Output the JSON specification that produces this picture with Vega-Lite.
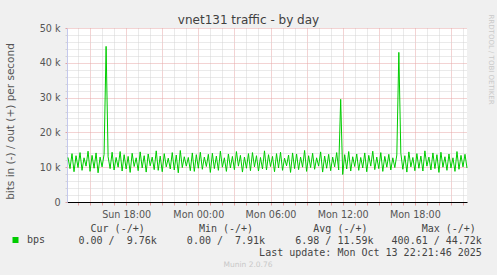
{
  "$schema": "https://vega.github.io/schema/vega-lite/v6.json",
  "width": 400,
  "height": 174,
  "autosize": "none",
  "padding": {"left": 67, "top": 28, "right": 30, "bottom": 73},
  "background": "#f0f0f0",
  "view": {"fill": "#ffffff", "stroke": null},
  "title": {"text": "Munin 2.0.76", "orient": "bottom", "anchor": "middle", "frame": "group", "dx": -19, "offset": 4, "font": "DejaVu Sans", "fontSize": 7.5, "fontWeight": "normal", "color": "#c8c8c8"},
  "data": {"values": [
    {"t": "2025-10-12T13:10", "v": 12800}, {"t": "2025-10-12T13:20", "v": 9600}, {"t": "2025-10-12T13:30", "v": 13900}, {"t": "2025-10-12T13:40", "v": 8700}, {"t": "2025-10-12T13:50", "v": 13300},
    {"t": "2025-10-12T14:00", "v": 9900}, {"t": "2025-10-12T14:10", "v": 14200}, {"t": "2025-10-12T14:20", "v": 9100}, {"t": "2025-10-12T14:30", "v": 12700}, {"t": "2025-10-12T14:40", "v": 10300}, {"t": "2025-10-12T14:50", "v": 14600},
    {"t": "2025-10-12T15:00", "v": 8800}, {"t": "2025-10-12T15:10", "v": 13400}, {"t": "2025-10-12T15:20", "v": 9700}, {"t": "2025-10-12T15:30", "v": 14100}, {"t": "2025-10-12T15:40", "v": 8400}, {"t": "2025-10-12T15:50", "v": 12900},
    {"t": "2025-10-12T16:00", "v": 10100}, {"t": "2025-10-12T16:10", "v": 13700}, {"t": "2025-10-12T16:20", "v": 44720}, {"t": "2025-10-12T16:30", "v": 13000}, {"t": "2025-10-12T16:40", "v": 9600}, {"t": "2025-10-12T16:50", "v": 14300},
    {"t": "2025-10-12T17:00", "v": 9200}, {"t": "2025-10-12T17:10", "v": 12800}, {"t": "2025-10-12T17:20", "v": 10000}, {"t": "2025-10-12T17:30", "v": 14500}, {"t": "2025-10-12T17:40", "v": 8900}, {"t": "2025-10-12T17:50", "v": 13600},
    {"t": "2025-10-12T18:00", "v": 9500}, {"t": "2025-10-12T18:10", "v": 13100}, {"t": "2025-10-12T18:20", "v": 8500}, {"t": "2025-10-12T18:30", "v": 14000}, {"t": "2025-10-12T18:40", "v": 10200}, {"t": "2025-10-12T18:50", "v": 12700},
    {"t": "2025-10-12T19:00", "v": 9000}, {"t": "2025-10-12T19:10", "v": 14400}, {"t": "2025-10-12T19:20", "v": 9800}, {"t": "2025-10-12T19:30", "v": 13300}, {"t": "2025-10-12T19:40", "v": 8600}, {"t": "2025-10-12T19:50", "v": 13800},
    {"t": "2025-10-12T20:00", "v": 10400}, {"t": "2025-10-12T20:10", "v": 12900}, {"t": "2025-10-12T20:20", "v": 9300}, {"t": "2025-10-12T20:30", "v": 14700}, {"t": "2025-10-12T20:40", "v": 9100}, {"t": "2025-10-12T20:50", "v": 13200},
    {"t": "2025-10-12T21:00", "v": 8700}, {"t": "2025-10-12T21:10", "v": 13900}, {"t": "2025-10-12T21:20", "v": 10100}, {"t": "2025-10-12T21:30", "v": 12600}, {"t": "2025-10-12T21:40", "v": 9500}, {"t": "2025-10-12T21:50", "v": 14200},
    {"t": "2025-10-12T22:00", "v": 9200}, {"t": "2025-10-12T22:10", "v": 13500}, {"t": "2025-10-12T22:20", "v": 8400}, {"t": "2025-10-12T22:30", "v": 14800}, {"t": "2025-10-12T22:40", "v": 9900}, {"t": "2025-10-12T22:50", "v": 13000},
    {"t": "2025-10-12T23:00", "v": 10300}, {"t": "2025-10-12T23:10", "v": 12800}, {"t": "2025-10-12T23:20", "v": 9000}, {"t": "2025-10-12T23:30", "v": 14100}, {"t": "2025-10-12T23:40", "v": 8800}, {"t": "2025-10-12T23:50", "v": 13600},
    {"t": "2025-10-13T00:00", "v": 9700}, {"t": "2025-10-13T00:10", "v": 14300}, {"t": "2025-10-13T00:20", "v": 9400}, {"t": "2025-10-13T00:30", "v": 12900}, {"t": "2025-10-13T00:40", "v": 10200}, {"t": "2025-10-13T00:50", "v": 13700},
    {"t": "2025-10-13T01:00", "v": 8500}, {"t": "2025-10-13T01:10", "v": 14000}, {"t": "2025-10-13T01:20", "v": 9600}, {"t": "2025-10-13T01:30", "v": 13200}, {"t": "2025-10-13T01:40", "v": 9100}, {"t": "2025-10-13T01:50", "v": 14600},
    {"t": "2025-10-13T02:00", "v": 10000}, {"t": "2025-10-13T02:10", "v": 12700}, {"t": "2025-10-13T02:20", "v": 8800}, {"t": "2025-10-13T02:30", "v": 13800}, {"t": "2025-10-13T02:40", "v": 9800}, {"t": "2025-10-13T02:50", "v": 13100},
    {"t": "2025-10-13T03:00", "v": 9300}, {"t": "2025-10-13T03:10", "v": 14500}, {"t": "2025-10-13T03:20", "v": 10300}, {"t": "2025-10-13T03:30", "v": 13400}, {"t": "2025-10-13T03:40", "v": 8600}, {"t": "2025-10-13T03:50", "v": 12900},
    {"t": "2025-10-13T04:00", "v": 9700}, {"t": "2025-10-13T04:10", "v": 13900}, {"t": "2025-10-13T04:20", "v": 9000}, {"t": "2025-10-13T04:30", "v": 14200}, {"t": "2025-10-13T04:40", "v": 10100}, {"t": "2025-10-13T04:50", "v": 13300},
    {"t": "2025-10-13T05:00", "v": 8900}, {"t": "2025-10-13T05:10", "v": 12800}, {"t": "2025-10-13T05:20", "v": 9500}, {"t": "2025-10-13T05:30", "v": 14700}, {"t": "2025-10-13T05:40", "v": 9200}, {"t": "2025-10-13T05:50", "v": 13600},
    {"t": "2025-10-13T06:00", "v": 10200}, {"t": "2025-10-13T06:10", "v": 13100}, {"t": "2025-10-13T06:20", "v": 8700}, {"t": "2025-10-13T06:30", "v": 13900}, {"t": "2025-10-13T06:40", "v": 9800}, {"t": "2025-10-13T06:50", "v": 14300},
    {"t": "2025-10-13T07:00", "v": 9100}, {"t": "2025-10-13T07:10", "v": 12600}, {"t": "2025-10-13T07:20", "v": 10400}, {"t": "2025-10-13T07:30", "v": 13500}, {"t": "2025-10-13T07:40", "v": 8500}, {"t": "2025-10-13T07:50", "v": 14100},
    {"t": "2025-10-13T08:00", "v": 9600}, {"t": "2025-10-13T08:10", "v": 13800}, {"t": "2025-10-13T08:20", "v": 9300}, {"t": "2025-10-13T08:30", "v": 12900}, {"t": "2025-10-13T08:40", "v": 10000}, {"t": "2025-10-13T08:50", "v": 14800},
    {"t": "2025-10-13T09:00", "v": 8800}, {"t": "2025-10-13T09:10", "v": 13300}, {"t": "2025-10-13T09:20", "v": 9900}, {"t": "2025-10-13T09:30", "v": 14000}, {"t": "2025-10-13T09:40", "v": 9400}, {"t": "2025-10-13T09:50", "v": 12700},
    {"t": "2025-10-13T10:00", "v": 10300}, {"t": "2025-10-13T10:10", "v": 14400}, {"t": "2025-10-13T10:20", "v": 8600}, {"t": "2025-10-13T10:30", "v": 13200}, {"t": "2025-10-13T10:40", "v": 9700}, {"t": "2025-10-13T10:50", "v": 13700},
    {"t": "2025-10-13T11:00", "v": 9000}, {"t": "2025-10-13T11:10", "v": 12900}, {"t": "2025-10-13T11:20", "v": 10100}, {"t": "2025-10-13T11:30", "v": 14200}, {"t": "2025-10-13T11:40", "v": 9200}, {"t": "2025-10-13T11:50", "v": 29500},
    {"t": "2025-10-13T12:00", "v": 7910}, {"t": "2025-10-13T12:10", "v": 13600}, {"t": "2025-10-13T12:20", "v": 9500}, {"t": "2025-10-13T12:30", "v": 14500}, {"t": "2025-10-13T12:40", "v": 8900}, {"t": "2025-10-13T12:50", "v": 13000},
    {"t": "2025-10-13T13:00", "v": 10200}, {"t": "2025-10-13T13:10", "v": 13800}, {"t": "2025-10-13T13:20", "v": 9100}, {"t": "2025-10-13T13:30", "v": 12800}, {"t": "2025-10-13T13:40", "v": 9800}, {"t": "2025-10-13T13:50", "v": 14100},
    {"t": "2025-10-13T14:00", "v": 8700}, {"t": "2025-10-13T14:10", "v": 13400}, {"t": "2025-10-13T14:20", "v": 10300}, {"t": "2025-10-13T14:30", "v": 14600}, {"t": "2025-10-13T14:40", "v": 9300}, {"t": "2025-10-13T14:50", "v": 12900},
    {"t": "2025-10-13T15:00", "v": 9600}, {"t": "2025-10-13T15:10", "v": 14200}, {"t": "2025-10-13T15:20", "v": 8800}, {"t": "2025-10-13T15:30", "v": 13100}, {"t": "2025-10-13T15:40", "v": 10000}, {"t": "2025-10-13T15:50", "v": 13700},
    {"t": "2025-10-13T16:00", "v": 9200}, {"t": "2025-10-13T16:10", "v": 12700}, {"t": "2025-10-13T16:20", "v": 9900}, {"t": "2025-10-13T16:30", "v": 13500}, {"t": "2025-10-13T16:40", "v": 43000}, {"t": "2025-10-13T16:50", "v": 14000},
    {"t": "2025-10-13T17:00", "v": 9400}, {"t": "2025-10-13T17:10", "v": 13300}, {"t": "2025-10-13T17:20", "v": 8600}, {"t": "2025-10-13T17:30", "v": 14400}, {"t": "2025-10-13T17:40", "v": 10100}, {"t": "2025-10-13T17:50", "v": 12800},
    {"t": "2025-10-13T18:00", "v": 9000}, {"t": "2025-10-13T18:10", "v": 13900}, {"t": "2025-10-13T18:20", "v": 9700}, {"t": "2025-10-13T18:30", "v": 13200}, {"t": "2025-10-13T18:40", "v": 8900}, {"t": "2025-10-13T18:50", "v": 14700},
    {"t": "2025-10-13T19:00", "v": 10300}, {"t": "2025-10-13T19:10", "v": 12900}, {"t": "2025-10-13T19:20", "v": 9200}, {"t": "2025-10-13T19:30", "v": 14100}, {"t": "2025-10-13T19:40", "v": 9600}, {"t": "2025-10-13T19:50", "v": 13600},
    {"t": "2025-10-13T20:00", "v": 8500}, {"t": "2025-10-13T20:10", "v": 14300}, {"t": "2025-10-13T20:20", "v": 10000}, {"t": "2025-10-13T20:30", "v": 13000}, {"t": "2025-10-13T20:40", "v": 9100}, {"t": "2025-10-13T20:50", "v": 13800},
    {"t": "2025-10-13T21:00", "v": 9800}, {"t": "2025-10-13T21:10", "v": 12700}, {"t": "2025-10-13T21:20", "v": 8800}, {"t": "2025-10-13T21:30", "v": 14500}, {"t": "2025-10-13T21:40", "v": 9400}, {"t": "2025-10-13T21:50", "v": 13400},
    {"t": "2025-10-13T22:00", "v": 10100}, {"t": "2025-10-13T22:10", "v": 13700}, {"t": "2025-10-13T22:20", "v": 9760}
  ]},
  "layer": [
    {
      "mark": {"type": "line", "strokeWidth": 1, "interpolate": "linear"},
      "encoding": {
        "x": {
          "field": "t", "type": "temporal",
          "scale": {"domain": [{"year": 2025, "month": 10, "date": 12, "hours": 13, "minutes": 5}, {"year": 2025, "month": 10, "date": 13, "hours": 22, "minutes": 20}]},
          "axis": {
            "orient": "bottom",
            "tickCount": 34,
            "labelExpr": "hours(datum.value) % 6 === 0 ? timeFormat(datum.value, '%a %H:%M') : ''",
            "labelFont": "DejaVu Sans", "labelFontSize": 9.6, "labelColor": "#555555", "labelPadding": 4, "labelOverlap": false, "labelFlush": false,
            "tickSize": 3, "tickColor": "#e3a3a3",
            "grid": true,
            "gridColor": {"condition": {"test": "hours(datum.value) % 3 === 0", "value": "#e6a6a6"}, "value": "#d4d4d4"},
            "gridDash": [1, 1], "gridWidth": 1,
            "domainColor": "#000000", "domainWidth": 1,
            "title": [
              "\u200b\u00a0\u00a0Cur (-/+)\u00a0\u00a0\u00a0\u00a0\u00a0\u00a0\u00a0\u00a0\u00a0Min (-/+)\u00a0\u00a0\u00a0\u00a0\u00a0\u00a0\u00a0\u00a0\u00a0\u00a0Avg (-/+)\u00a0\u00a0\u00a0\u00a0\u00a0\u00a0\u00a0\u00a0\u00a0Max (-/+)",
              "\u200b0.00 /\u00a0\u00a09.76k\u00a0\u00a0\u00a0\u00a0\u00a00.00 /\u00a0\u00a07.91k\u00a0\u00a0\u00a0\u00a0\u00a06.98 / 11.59k\u00a0\u00a0\u00a0400.61 / 44.72k",
              "\u200b\u00a0\u00a0\u00a0\u00a0\u00a0\u00a0\u00a0\u00a0\u00a0\u00a0\u00a0\u00a0\u00a0\u00a0\u00a0\u00a0\u00a0\u00a0\u00a0\u00a0\u00a0\u00a0\u00a0\u00a0\u00a0\u00a0\u00a0\u00a0\u00a0\u00a0Last update: Mon Oct 13 22:21:46 2025"
            ],
            "titleFont": "DejaVu Sans Mono", "titleFontSize": 10, "titleFontWeight": "normal", "titleColor": "#444444",
            "titleAlign": "left", "titleBaseline": "alphabetic", "titleX": 11, "titleY": 29, "titleLineHeight": 12
          }
        },
        "y": {
          "field": "v", "type": "quantitative",
          "scale": {"domain": [0, 50000], "nice": false, "zero": true},
          "axis": {
            "orient": "left",
            "values": [0, 2000, 4000, 6000, 8000, 10000, 12000, 14000, 16000, 18000, 20000, 22000, 24000, 26000, 28000, 30000, 32000, 34000, 36000, 38000, 40000, 42000, 44000, 46000, 48000, 50000],
            "labelExpr": "datum.value % 10000 === 0 ? (datum.value === 0 ? '0' : (datum.value / 1000) + ' k') : ''",
            "labelFont": "DejaVu Sans", "labelFontSize": 9.6, "labelColor": "#555555", "labelPadding": 5, "labelOverlap": false, "labelFlush": false,
            "tickSize": 2,
            "tickColor": {"condition": {"test": "datum.value % 10000 === 0", "value": "#e3a3a3"}, "value": "#d4d4d4"},
            "grid": true,
            "gridColor": {"condition": {"test": "datum.value % 10000 === 0", "value": "#e6a6a6"}, "value": "#d4d4d4"},
            "gridDash": [1, 1], "gridWidth": 1,
            "domainColor": "#c4c8ec", "domainWidth": 1,
            "title": "bits in (-) / out (+) per second",
            "titleFont": "DejaVu Sans", "titleFontSize": 10.5, "titleFontWeight": "normal", "titleColor": "#555555",
            "titleX": -57, "titleY": 93, "titleBaseline": "middle", "titleAlign": "center"
          }
        },
        "color": {
          "datum": "bps", "type": "nominal",
          "scale": {"range": ["#00cc00"]},
          "legend": {
            "orient": "none", "legendX": -56.5, "legendY": 207, "title": null, "padding": 0,
            "symbolType": "square", "symbolSize": 36, "symbolStrokeWidth": 0, "symbolFillColor": "#00cc00",
            "labelFont": "DejaVu Sans Mono", "labelFontSize": 10, "labelColor": "#444444", "labelOffset": 6.5
          }
        }
      }
    },
    {
      "mark": {"type": "line", "opacity": 0},
      "encoding": {
        "x": {
          "field": "t", "type": "temporal",
          "scale": {"domain": [{"year": 2025, "month": 10, "date": 12, "hours": 13, "minutes": 5}, {"year": 2025, "month": 10, "date": 13, "hours": 22, "minutes": 20}]},
          "axis": {
            "orient": "top", "labels": false, "ticks": false, "domain": false, "grid": false,
            "title": "vnet131 traffic - by day",
            "titleFont": "DejaVu Sans", "titleFontSize": 12, "titleFontWeight": "normal", "titleColor": "#404040",
            "titleX": 181, "titleY": -5, "titleAlign": "center", "titleBaseline": "alphabetic"
          }
        },
        "y": {
          "field": "v", "type": "quantitative",
          "scale": {"domain": [0, 50000], "nice": false, "zero": true},
          "axis": {
            "orient": "right", "labels": false, "ticks": false, "domain": false, "grid": false,
            "title": "RRDTOOL / TOBI OETIKER",
            "titleFont": "DejaVu Sans", "titleFontSize": 7, "titleFontWeight": "normal", "titleColor": "#c8c8c8",
            "titleAngle": 90, "titleX": 23, "titleY": -14, "titleAlign": "left", "titleBaseline": "middle"
          }
        }
      }
    }
  ],
  "resolve": {"axis": {"x": "independent", "y": "independent"}}
}
